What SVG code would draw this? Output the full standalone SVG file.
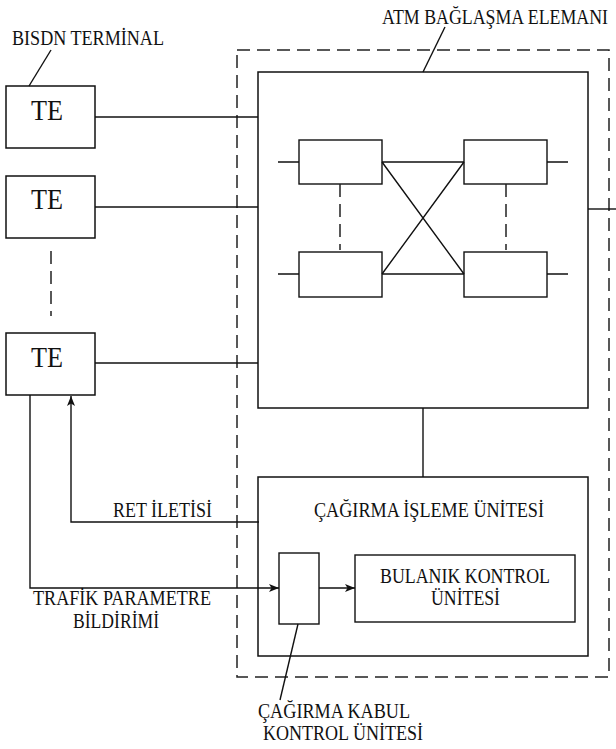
<svg xmlns="http://www.w3.org/2000/svg" width="616" height="749" viewBox="0 0 616 749">
<style>
.b{fill:none;stroke:#111;stroke-width:1.5}
.l{fill:none;stroke:#111;stroke-width:1.4}
.d{fill:none;stroke:#222;stroke-width:1.5;stroke-dasharray:13 7}
.t{font-family:"Liberation Serif","Times New Roman",serif;font-size:20px;fill:#111}
.te{font-family:"Liberation Serif","Times New Roman",serif;font-size:30px;fill:#111}
</style>
<defs>
<marker id="ah" viewBox="0 0 10 8" refX="10" refY="4" markerWidth="10" markerHeight="8" markerUnits="userSpaceOnUse" orient="auto">
<path d="M0,0 L10,4 L0,8 L2.5,4 Z" fill="#111"/>
</marker>
</defs>
<rect width="616" height="749" fill="#fff"/>

<g id="atm-boundary">
<rect class="d" x="237" y="50" width="372" height="627"/>
</g>

<g id="switch">
<rect class="b" x="258" y="72" width="330" height="336"/>
<rect class="l" x="299" y="140" width="83" height="44"/>
<rect class="l" x="464" y="140" width="83" height="44"/>
<rect class="l" x="299" y="252" width="83" height="45"/>
<rect class="l" x="464" y="252" width="83" height="45"/>
<path class="l" d="M278,162H299M278,274H299M547,162H568M547,274H568"/>
<path class="l" d="M382,162H464M382,274H464M382,162L464,274M382,274L464,162"/>
<path class="d" d="M340,184V250M506,184V250" stroke-dasharray="14 8"/>
</g>

<g id="te1">
<rect class="b" x="6" y="86" width="89" height="62"/>
<text class="te" x="47" y="120" text-anchor="middle" textLength="32" lengthAdjust="spacingAndGlyphs">TE</text>
</g>
<g id="te2">
<rect class="b" x="6" y="176" width="89" height="62"/>
<text class="te" x="47" y="209" text-anchor="middle" textLength="32" lengthAdjust="spacingAndGlyphs">TE</text>
</g>
<g id="te3">
<rect class="b" x="6" y="333" width="89" height="62"/>
<text class="te" x="47" y="367" text-anchor="middle" textLength="32" lengthAdjust="spacingAndGlyphs">TE</text>
</g>

<g id="cagirma-isleme">
<rect class="b" x="258" y="477" width="330" height="179"/>
<text class="t" x="314" y="517" textLength="230" lengthAdjust="spacingAndGlyphs">ÇAĞIRMA İŞLEME ÜNİTESİ</text>
</g>

<g id="cac">
<rect class="l" x="279" y="553" width="40" height="71"/>
</g>

<g id="bulanik">
<rect class="l" x="355" y="555" width="220" height="67"/>
<text class="t" x="380" y="583" textLength="170" lengthAdjust="spacingAndGlyphs">BULANIK KONTROL</text>
<text class="t" x="431" y="605" textLength="69" lengthAdjust="spacingAndGlyphs">ÜNİTESİ</text>
</g>

<g id="labels">
<text class="t" x="382" y="24" font-size="18" textLength="226" lengthAdjust="spacingAndGlyphs">ATM BAĞLAŞMA ELEMANI</text>
<text class="t" x="12" y="45" textLength="152" lengthAdjust="spacingAndGlyphs">BISDN TERMİNAL</text>
<text class="t" x="113" y="517" textLength="99" lengthAdjust="spacingAndGlyphs">RET İLETİSİ</text>
<text class="t" x="33" y="605" textLength="178" lengthAdjust="spacingAndGlyphs">TRAFİK PARAMETRE</text>
<text class="t" x="73" y="628" textLength="86" lengthAdjust="spacingAndGlyphs">BİLDİRİMİ</text>
<text class="t" x="258" y="718" textLength="152" lengthAdjust="spacingAndGlyphs">ÇAĞIRMA KABUL</text>
<text class="t" x="263" y="740" textLength="160" lengthAdjust="spacingAndGlyphs">KONTROL ÜNİTESİ</text>
</g>

<g id="connectors">
<path class="l" d="M95,117H258"/>
<path class="l" d="M95,207H258"/>
<path class="l" d="M95,363H258"/>
<path class="d" d="M51,251V316" stroke-dasharray="15 7"/>
<path class="l" d="M588,209H616"/>
<path class="l" d="M423,408V477"/>
<path class="l" d="M259,522H71V396" marker-end="url(#ah)"/>
<path class="l" d="M30,395V588H279" marker-end="url(#ah)"/>
<path class="l" d="M319,588H355" marker-end="url(#ah)"/>
<path class="l" d="M29,86L51,50"/>
<path class="l" d="M423,72L445,27"/>
<path class="l" d="M298,624L280,700"/>
</g>
</svg>
